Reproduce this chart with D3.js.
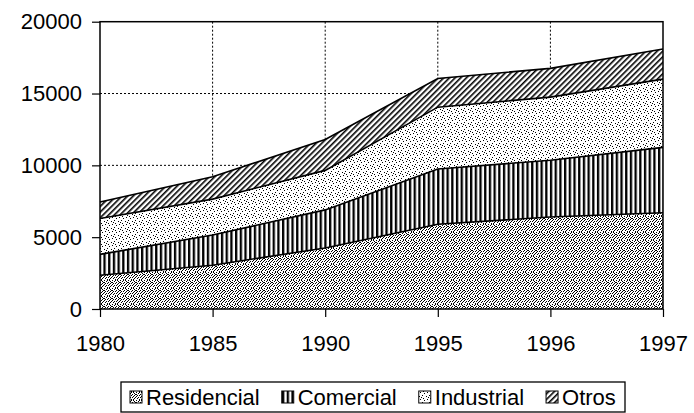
<!DOCTYPE html>
<html>
<head>
<meta charset="utf-8">
<script src="https://cdn.jsdelivr.net/npm/d3@7"></script>
<style>
  html, body { margin: 0; padding: 0; background: #fff; }
  svg { display: block; }
  text { font-family: "Liberation Sans", Arial, sans-serif; fill: #000; }
</style>
</head>
<body>
<svg id="chart" width="694" height="413"></svg>
<script>
// ---- data ----
const years = ["1980", "1985", "1990", "1995", "1996", "1997"];
const seriesNames = ["Residencial", "Comercial", "Industrial", "Otros"];
const residencial = [2350, 3050, 4250, 5900, 6400, 6700];
const comercial   = [1450, 2100, 2650, 3850, 3950, 4550];
const industrial  = [2500, 2500, 2750, 4300, 4400, 4750];
const otros       = [1150, 1550, 2150, 2000, 2000, 2100];
const yTicks = [0, 5000, 10000, 15000, 20000];

const table = years.map((yr, i) => ({
  year: yr,
  Residencial: residencial[i],
  Comercial: comercial[i],
  Industrial: industrial[i],
  Otros: otros[i]
}));

// ---- layout ----
const plotL = 100, plotR = 663, plotT = 21.7, plotB = 309;
const svg = d3.select("#chart");

const x = d3.scalePoint().domain(years).range([plotL, plotR]);
const y = d3.scaleLinear().domain([0, 20000]).range([plotB, plotT]);

// ---- patterns ----
const defs = svg.append("defs");
function stipple(id, size, dots) {
  const p = defs.append("pattern").attr("id", id)
    .attr("patternUnits", "userSpaceOnUse").attr("width", size).attr("height", size);
  p.append("rect").attr("width", size).attr("height", size).attr("fill", "#fff");
  dots.forEach(d => p.append("rect").attr("x", d[0]).attr("y", d[1])
    .attr("width", 1).attr("height", 1).attr("fill", "#000"));
}
stipple("pRes", 8, [[0,0],[3,0],[5,0],[2,1],[6,1],[0,2],[4,2],[7,2],[1,3],[3,3],[6,3],
                    [0,4],[5,4],[2,5],[4,5],[7,5],[1,6],[6,6],[3,7],[5,7]]);
stipple("pInd", 7, [[0,0],[4,1],[2,3],[6,4],[3,6],[1,5]]);

const pCom = defs.append("pattern").attr("id", "pCom")
  .attr("patternUnits", "userSpaceOnUse").attr("width", 4.7).attr("height", 10);
pCom.append("rect").attr("width", 4.7).attr("height", 10).attr("fill", "#fff");
pCom.append("rect").attr("x", 0).attr("width", 2.3).attr("height", 10).attr("fill", "#000");

const pOt = defs.append("pattern").attr("id", "pOt")
  .attr("patternUnits", "userSpaceOnUse").attr("width", 4).attr("height", 4)
  .attr("patternTransform", "rotate(45)");
pOt.append("rect").attr("width", 4).attr("height", 4).attr("fill", "#fff");
pOt.append("rect").attr("x", 0).attr("width", 1.6).attr("height", 4).attr("fill", "#000");

const fills = { Residencial: "url(#pRes)", Comercial: "url(#pCom)", Industrial: "url(#pInd)", Otros: "url(#pOt)" };

// ---- gridlines ----
const grid = svg.append("g");
grid.selectAll("line.h").data(yTicks.filter(v => v > 0 && v < 20000)).join("line")
  .attr("x1", plotL).attr("x2", plotR)
  .attr("y1", d => y(d)).attr("y2", d => y(d))
  .attr("stroke", "#000").attr("stroke-width", 1).attr("stroke-dasharray", "2,2");
grid.selectAll("line.v").data(years.slice(1, -1)).join("line")
  .attr("y1", plotT).attr("y2", plotB)
  .attr("x1", d => x(d)).attr("x2", d => x(d))
  .attr("stroke", "#000").attr("stroke-width", 1).attr("stroke-dasharray", "2,2");

// ---- stacked areas ----
const stack = d3.stack().keys(seriesNames);
const layers = stack(table);
const area = d3.area().x(d => x(d.data.year)).y0(d => y(d[0])).y1(d => y(d[1]));
const line = d3.line().x(d => x(d.data.year)).y(d => y(d[1]));

svg.append("g").selectAll("path").data(layers).join("path")
  .attr("d", area).attr("fill", d => fills[d.key]).attr("stroke", "none");
svg.append("g").selectAll("path").data(layers).join("path")
  .attr("d", line).attr("fill", "none").attr("stroke", "#000").attr("stroke-width", 1.6);

// ---- frame ----
svg.append("rect").attr("x", plotL).attr("y", plotT)
  .attr("width", plotR - plotL).attr("height", plotB - plotT)
  .attr("fill", "none").attr("stroke", "#000").attr("stroke-width", 1.5);

// ---- axes ----
const yAxis = svg.append("g").attr("transform", `translate(${plotL},0)`)
  .call(d3.axisLeft(y).tickValues(yTicks).tickSize(8).tickPadding(10).tickFormat(d3.format("d")));
yAxis.select(".domain").remove();
yAxis.selectAll("line").attr("stroke", "#000").attr("stroke-width", 1.2);
yAxis.selectAll("text").style("font-size", "22px").attr("fill", "#000");

const xAxis = svg.append("g").attr("transform", `translate(0,${plotB})`)
  .call(d3.axisBottom(x).tickSize(8).tickPadding(18));
xAxis.select(".domain").remove();
xAxis.selectAll("line").attr("stroke", "#000").attr("stroke-width", 1.2);
xAxis.selectAll("text").style("font-size", "22px").attr("fill", "#000");

// ---- legend ----
const lg = svg.append("g");
const lgT = 382, lgB = 412, lgL = 121, lgR = 625;
lg.append("rect").attr("x", lgL).attr("y", lgT)
  .attr("width", lgR - lgL).attr("height", lgB - lgT)
  .attr("fill", "#fff").attr("stroke", "#000").attr("stroke-width", 1.3);
let cx = 130;
seriesNames.forEach(name => {
  lg.append("rect").attr("x", cx).attr("y", 391).attr("width", 12).attr("height", 12)
    .attr("fill", fills[name]).attr("stroke", "#000").attr("stroke-width", 1);
  const t = lg.append("text").attr("x", cx + 16).attr("y", 405)
    .style("font-size", "22px").text(name);
  const w = t.node().getComputedTextLength();
  cx += 16 + w + 22;
});
</script>
</body>
</html>
